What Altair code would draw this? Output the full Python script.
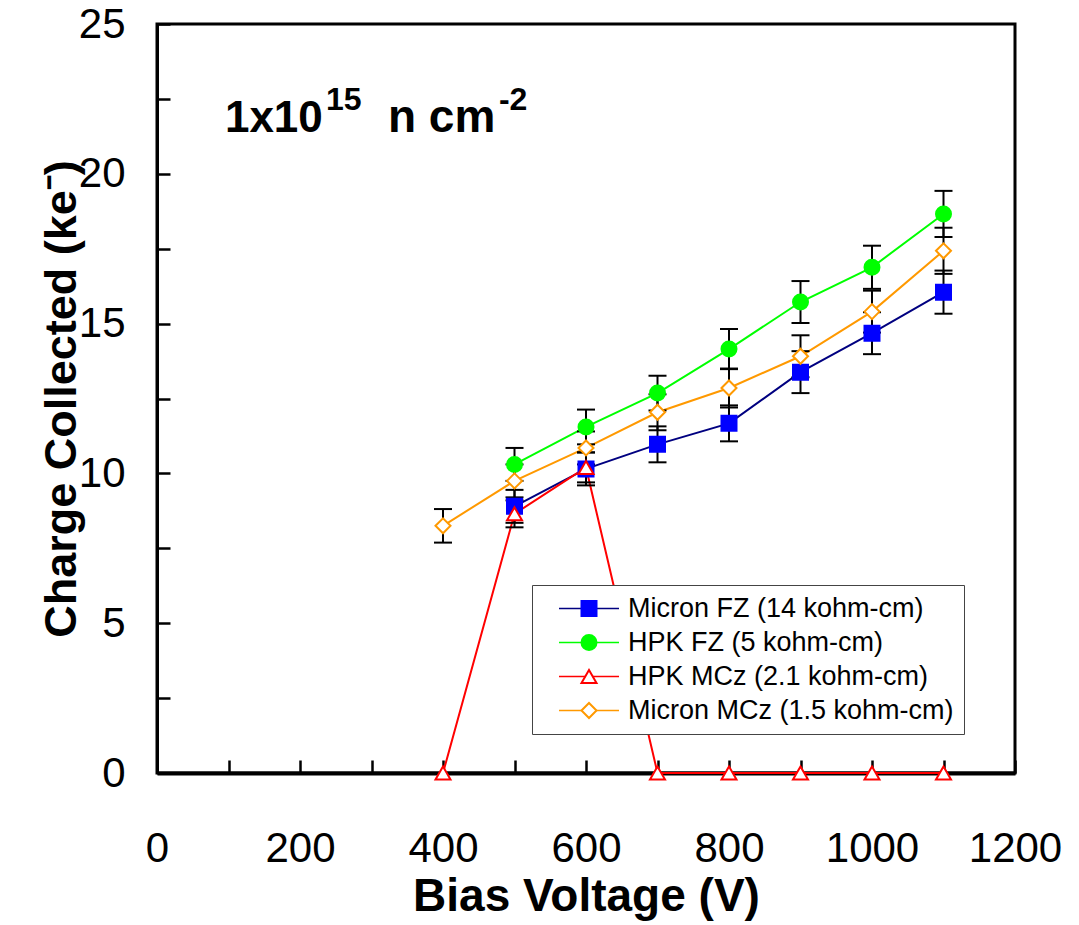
import altair as alt
import pandas as pd

FONT = "Liberation Sans"

series_names = [
    "Micron FZ (14 kohm-cm)",
    "HPK FZ (5 kohm-cm)",
    "HPK MCz (2.1 kohm-cm)",
    "Micron MCz (1.5 kohm-cm)",
]

micron_fz_v = [500, 600, 700, 800, 900, 1000, 1100]
micron_fz_q = [8.9, 10.15, 10.97, 11.67, 13.38, 14.68, 16.05]
micron_fz_e = [0.55, 0.55, 0.6, 0.6, 0.7, 0.7, 0.72]

hpk_fz_v = [500, 600, 700, 800, 900, 1000, 1100]
hpk_fz_q = [10.3, 11.55, 12.68, 14.15, 15.72, 16.88, 18.66]
hpk_fz_e = [0.55, 0.58, 0.58, 0.67, 0.7, 0.72, 0.77]

hpk_mcz_v = [400, 500, 600, 700, 800, 900, 1000, 1100]
hpk_mcz_q = [0.0, 8.65, 10.2, 0.0, 0.0, 0.0, 0.0, 0.0]
hpk_mcz_e = [0.0, 0.45, 0.5, 0.0, 0.0, 0.0, 0.0, 0.0]

micron_mcz_v = [400, 500, 600, 700, 800, 900, 1000, 1100]
micron_mcz_q = [8.25, 9.75, 10.85, 12.04, 12.85, 13.91, 15.4, 17.43]
micron_mcz_e = [0.56, 0.55, 0.55, 0.6, 0.65, 0.7, 0.7, 0.77]

line_colors = ["#000080", "#00FF00", "#FF0000", "#FF9900"]
marker_strokes = ["#0000FF", "#00FF00", "#FF0000", "#FF9900"]
marker_fills = ["#0000FF", "#00FF00", "#FFFFFF", "#FFFFFF"]
marker_shapes = ["square", "circle", "triangle-up", "diamond"]
line_widths = [2, 2, 1, 1]

x_ticks = list(range(0, 1201, 100))
y_ticks = [0, 2.5, 5, 7.5, 10, 12.5, 15, 17.5, 20, 22.5, 25]

rows = []
for name, vs, qs, es in [
    (series_names[0], micron_fz_v, micron_fz_q, micron_fz_e),
    (series_names[1], hpk_fz_v, hpk_fz_q, hpk_fz_e),
    (series_names[2], hpk_mcz_v, hpk_mcz_q, hpk_mcz_e),
    (series_names[3], micron_mcz_v, micron_mcz_q, micron_mcz_e),
]:
    for v, q, e in zip(vs, qs, es):
        rows.append({"series": name, "marker": name, "V": v, "Q": q, "err": e,
                     "lo": q - e, "hi": q + e, "order": series_names.index(name)})
df = pd.DataFrame(rows)
df_err = df[df["err"] > 0]

x_enc = alt.X("V:Q", scale=alt.Scale(domain=[0, 1200], nice=False),
              axis=alt.Axis(values=x_ticks, title="Bias Voltage (V)", format="d",
                            labelExpr="datum.value % 200 === 0 ? datum.label : ''",
                            labelFont=FONT, labelFontSize=42, labelColor="black",
                            labelPadding=68, tickSize={"expr": "-13"}, tickColor="black", tickWidth=2.5,
                            domainColor="black", domainWidth=4, grid=False,
                            titleFont=FONT, titleFontSize=46, titleFontWeight="bold",
                            titleColor="black", titleBaseline="alphabetic", titleY=137,
                            labelFlush=False))
y_enc = alt.Y("Q:Q", scale=alt.Scale(domain=[0, 25], nice=False),
              axis=alt.Axis(values=y_ticks, title="Charge Collected (ke\u207b)",
                            labelExpr="datum.value % 5 === 0 ? datum.label : ''",
                            labelFont=FONT, labelFontSize=42, labelColor="black",
                            labelPadding=45, tickSize={"expr": "-13"}, tickColor="black", tickWidth=2.5,
                            domainColor="black", domainWidth=3, grid=False,
                            titleFont=FONT, titleFontSize=45, titleFontWeight="bold",
                            titleColor="black", titleBaseline="alphabetic", titleX=-82,
                            labelFlush=False))

LEG_PAD = 10
SYM_OFF = 33.5
LAB_OFF = 25.5
line_legend = alt.Legend(orient="none", legendX=375, legendY=561, title=None,
                         symbolType="M-4,0H4", symbolSize=225, symbolOffset=SYM_OFF,
                         labelFont=FONT, labelFontSize=27, labelColor="black", labelOffset=LAB_OFF,
                         labelLimit=0, padding=LEG_PAD, rowPadding=6, strokeColor="#444444",
                         fillColor="white", symbolStrokeWidth=1.6)

lines = alt.Chart(df).mark_line().encode(
    x=x_enc, y=y_enc,
    color=alt.Color("series:N", sort=series_names, scale=alt.Scale(range=line_colors), legend=line_legend),
    strokeWidth=alt.StrokeWidth("series:N", sort=series_names, scale=alt.Scale(range=line_widths), legend=None),
    order="V:Q",
)

err_rule = alt.Chart(df_err).mark_rule(color="black", strokeWidth=2).encode(
    x="V:Q", y="lo:Q", y2="hi:Q")
cap_lo = alt.Chart(df_err).mark_tick(color="black", thickness=2, size=18, orient="horizontal", opacity=1).encode(
    x="V:Q", y="lo:Q")
cap_hi = alt.Chart(df_err).mark_tick(color="black", thickness=2, size=18, orient="horizontal", opacity=1).encode(
    x="V:Q", y="hi:Q")

shape_legend = alt.Legend(orient="none", legendX=375, legendY=561, title=None,
                          symbolSize=225, symbolOffset=SYM_OFF, labelFont=FONT, labelFontSize=27,
                          labelOffset=LAB_OFF, labelLimit=0, labelOpacity=0, padding=LEG_PAD,
                          rowPadding=6, symbolStrokeWidth=2)

points = alt.Chart(df).mark_point(size=225, strokeWidth=2, opacity=1, fillOpacity=1, filled=False).encode(
    x="V:Q", y="Q:Q",
    shape=alt.Shape("marker:N", scale=alt.Scale(domain=series_names, range=marker_shapes), legend=shape_legend),
    fill=alt.Fill("marker:N", scale=alt.Scale(domain=series_names, range=marker_fills), legend=shape_legend),
    stroke=alt.Stroke("marker:N", scale=alt.Scale(domain=series_names, range=marker_strokes), legend=shape_legend),
    order="order:Q",
)

ann_main1 = pd.DataFrame({"V": [95], "Q": [21.39], "t": ["1x10"]})
ann_sup1 = pd.DataFrame({"V": [95], "Q": [21.39], "t": ["15"]})
ann_main2 = pd.DataFrame({"V": [95], "Q": [21.39], "t": ["n cm"]})
ann_sup2 = pd.DataFrame({"V": [95], "Q": [21.39], "t": ["-2"]})

def ann(d, size, dx, dy):
    return alt.Chart(d).mark_text(font=FONT, fontSize=size, fontWeight="bold", color="black",
                                  align="left", baseline="alphabetic", dx=dx, dy=dy).encode(
        x="V:Q", y="Q:Q", text="t:N")

chart = alt.layer(
    lines, err_rule, cap_lo, cap_hi, points,
    ann(ann_main1, 44, 0, 0), ann(ann_sup1, 32, 101, -22),
    ann(ann_main2, 46, 163, 0), ann(ann_sup2, 32, 274, -22),
).properties(
    width=858, height=749,
    autosize=alt.AutoSizeParams(type="none"),
    padding={"left": 149, "top": 16, "right": 56, "bottom": 152},
).configure(background="white").configure_view(stroke="black", strokeWidth=3)

chart.save("out.html", embed_options={"renderer": "svg", "actions": False})
